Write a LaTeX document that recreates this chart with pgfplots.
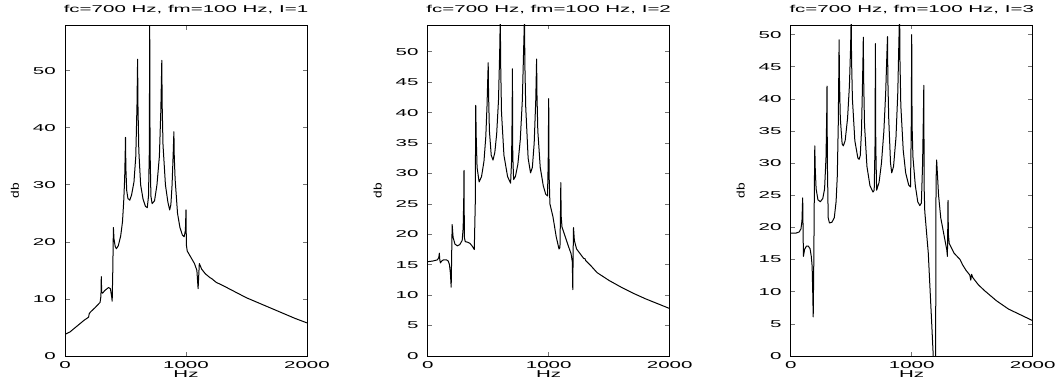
\documentclass[border=0pt]{standalone}
\usepackage{fontspec}
\setmainfont{Liberation Sans}[FakeStretch=2.05]
\newfontfamily\plainsans{Liberation Sans}[FakeStretch=1.25]
\usepackage{pgfplots}
\pgfplotsset{compat=1.18}
\pgfplotsset{
 panel/.style={
  scale only axis, width=242pt, height=331pt,
  xmin=0, xmax=2000, ymin=0,
  xtick={0,1000,2000},
  tick align=inside,
  major tick length=4.5pt,
  tick style={black!55, line width=0.6pt},
  axis line style={line width=0.8pt},
  /pgf/number format/assume math mode=true,
  /pgf/number format/1000 sep={},
  ticklabel style={font=\fontsize{10}{12}\selectfont},
  xticklabel style={inner sep=0pt, anchor=north, yshift=-5.5pt},
  yticklabel style={inner sep=0pt, anchor=east, xshift=-9pt},
  xlabel={Hz}, ylabel={db},
  xlabel style={at={(axis description cs:0.5,0)}, anchor=north, inner sep=0pt, yshift=-14pt, font=\fontsize{10}{12}\selectfont},
  ylabel style={at={(axis description cs:-0.207,0.5)}, anchor=center, inner sep=0pt, font=\plainsans\fontsize{11}{13}\selectfont},
  title style={at={(axis description cs:0.5,1)}, anchor=south, inner sep=0pt, yshift=5pt, font=\fontsize{10}{12}\selectfont},
 },
 curve/.style={black, no marks, line width=1pt, line join=round},
}
\begin{document}
\begin{tikzpicture}[x=1pt,y=1pt]
\path[use as bounding box] (0,0) rectangle (1057,380);
% ---------- panel 1
\begin{axis}[panel, at={(65pt,24pt)}, anchor=south west, ymax=58, ytick={0,10,...,50},
  title={fc=700 Hz, fm=100 Hz, I=1}]
\addplot[curve] coordinates {
(0,3.8)(40,4.2)(80,4.9)(120,5.6)(160,6.3)(195,6.8)(200,7.4)(210,7.7)(250,8.5)(290,9.4)
(297,10.5)(300,13.9)(303,11.2)(310,11.0)(330,11.5)(360,12.0)(375,11.8)(385,10.5)(390,9.6)
(395,15)(400,22.5)(405,20.5)(415,19.2)(425,18.8)(440,19.3)(460,21)(475,23.5)(485,27)(493,31)
(498,36)(500,38.3)(503,33)(510,29)(520,27.6)(535,27.3)(550,28.2)(570,30.5)(585,35)(595,44)
(600,52)(603,44)(610,36)(625,30)(645,27.5)(665,26.2)(680,26)(690,28)(697,36)(700,58.5)
(703,36)(710,28)(720,26.7)(740,27.2)(760,30)(780,35)(792,43)(800,51.8)(803,44)(810,37)
(830,30)(850,27)(865,25.6)(875,26.5)(885,30)(895,36)(900,39.3)(903,35)(910,31)(930,25)
(950,22.5)(970,21.2)(985,20.9)(995,22)(1000,25.6)(1003,19.5)(1010,18.4)(1040,17.3)
(1070,16.2)(1090,15)(1100,11.8)(1105,14)(1110,16.2)(1130,15.2)(1160,14.4)(1200,13.7)
(1210,13.6)(1250,12.9)(1300,12.4)(1400,11.3)(1500,10.2)(1600,9.3)(1700,8.4)(1800,7.5)
(1900,6.6)(2000,5.8)
};
\end{axis}
% ---------- panel 2
\begin{axis}[panel, at={(427.7pt,24pt)}, anchor=south west, ymax=54.4, ytick={0,5,...,50},
  title={fc=700 Hz, fm=100 Hz, I=2}]
\addplot[curve] coordinates {
(0,15.5)(40,15.6)(80,15.8)(92,16.2)(96,16.9)(100,15.8)(105,15.3)(115,15.6)(130,15.8)
(155,15.8)(170,15.6)(180,15.0)(188,13.5)(194,11.3)(198,16.5)(202,21.6)(210,19.5)(225,18.4)
(245,18.1)(265,18.3)(285,19.0)(293,21)(298,26)(300,30.5)(303,19.5)(310,18.8)(330,18.7)
(350,18.5)(370,18.0)(385,17.5)(393,25)(397,41.2)(401,36)(408,31)(425,28.6)(445,29.5)
(465,32)(480,36)(490,41)(497,46)(500,48.2)(503,43)(510,37)(525,33)(540,32.2)(555,33.5)
(570,36.5)(585,42)(595,50)(600,56)(603,48)(610,40)(630,33)(660,29.5)(685,28.4)(693,32)
(698,40)(700,47.2)(703,33)(710,29)(725,29.5)(745,31.5)(765,35.5)(782,42)(795,52)(800,56)
(803,48)(810,41)(830,32.5)(850,30.1)(865,31)(880,35)(893,42)(900,48.8)(903,43)(910,37)
(930,31)(955,28)(975,26.6)(990,26.3)(996,32)(1000,42.3)(1003,30)(1010,25)(1035,22.9)
(1062,19.6)(1085,17.6)(1093,17.8)(1097,23)(1100,28.5)(1103,23)(1110,21.2)(1130,20)
(1160,18.2)(1185,16.8)(1195,15.5)(1199,10.9)(1202,17)(1205,21.1)(1212,19)(1230,17.6)
(1260,16.8)(1290,16.0)(1300,16.0)(1305,15.7)(1350,14.8)(1400,13.7)(1500,12.4)(1600,11.3)
(1700,10.3)(1800,9.4)(1900,8.6)(2000,7.8)
};
\end{axis}
% ---------- panel 3
\begin{axis}[panel, at={(790.7pt,24pt)}, anchor=south west, ymax=51.5, ytick={0,5,...,50},
  title={fc=700 Hz, fm=100 Hz, I=3}]
\addplot[curve] coordinates {
(0,19.1)(40,19.1)(70,19.3)(85,19.8)(93,21)(97,23.5)(99,24.6)(102,20)(105,15.5)(115,16.6)
(130,17.1)(145,17.1)(160,16.7)(170,15.5)(177,14)(182,10)(186,6.1)(191,15)(195,25)(199,32.7)
(203,29)(210,26)(225,24.3)(245,24.0)(265,24.5)(280,26)(292,31)(298,38)(300,42)(303,30)
(310,21.5)(320,20.7)(340,20.8)(360,21.5)(375,24)(385,28)(393,36)(398,45)(400,49.2)(403,43)
(410,37)(425,33)(435,32.7)(450,33.5)(470,37)(485,42)(495,48)(500,53)(503,46)(510,40)
(530,33.5)(555,30.8)(565,30.6)(575,31.2)(585,35)(593,42)(598,47)(600,49.6)(603,43)(610,36)
(630,29.5)(655,26.5)(680,25.5)(690,25.8)(697,33)(700,48.6)(703,33)(710,25.8)(730,27)
(750,30)(770,35)(785,41)(795,47)(800,49.7)(803,43)(810,37)(825,30)(835,28.5)(850,29.5)
(870,34)(885,41)(893,48)(900,54)(903,46)(910,39)(930,32)(950,28.5)(975,26.6)(990,26.3)
(996,35)(1000,50.0)(1003,36)(1010,31)(1030,26.5)(1050,24)(1067,23.4)(1080,23.8)(1090,30)
(1097,38)(1100,42.1)(1103,26)(1108,22.5)(1137,16)(1164,5.6)(1178,0)(1188,-10)(1196,-10)
(1199,10)(1201,27)(1206,30.5)(1212,28.5)(1222,25)(1240,21.5)(1260,19.5)(1280,17.5)
(1290,16.5)(1295,15.5)(1298,20)(1300,24.2)(1303,19)(1310,17.5)(1350,16)(1400,15)(1420,14.2)
(1450,13.3)(1480,12.6)(1488,11.8)(1495,12.7)(1505,12.2)(1550,11.1)(1600,10.2)(1700,8.6)
(1800,7.3)(1900,6.4)(2000,5.5)
};
\end{axis}
\end{tikzpicture}
\end{document}
